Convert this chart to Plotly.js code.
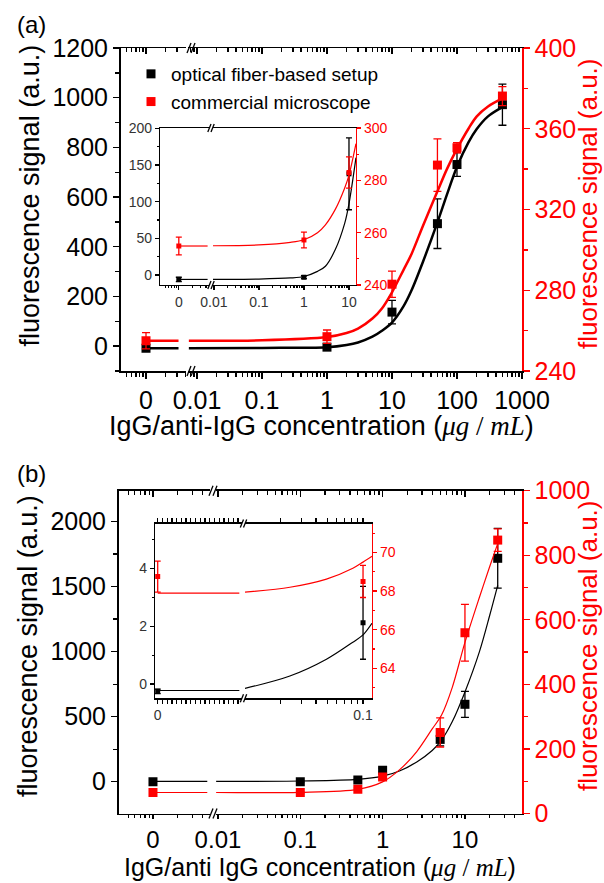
<!DOCTYPE html>
<html><head><meta charset="utf-8">
<script src="https://cdn.plot.ly/plotly-3.0.1.min.js"></script>
<style>html,body{margin:0;padding:0;background:#fff}#chart{width:604px;height:883px}</style>
</head><body><div id="chart"></div>
<script>
// ================= DATA =================
// Panel (a) main
const aConcZero = [0];
const aConc = [1, 10, 50, 100, 500];
const aFiberZero = [-8];       const aFiberZeroErr = [4];
const aFiber = [-4, 137, 493, 731, 972];
const aFiberErr = [4, 47, 100, 48, 83];
const aMicroZero = [255];      const aMicroZeroErr = [4];
const aMicro = [257, 283, 342, 350.6, 376.2];
const aMicroErr = [3.3, 6.5, 13, 2.5, 4.7];
const aFitZeroX = [0, 0.5];
const aFiberFitZero = [-8, -8];
const aMicroFitZero = [255, 255];
const aFitX = [0.0075, 0.1, 1, 2, 3, 5, 7, 10, 15, 20, 30, 50, 70, 100, 150, 200, 300, 500];
const aFiberFit = [-8, -7, -4, 5, 15, 38, 62, 95, 160, 225, 340, 498, 610, 722, 820, 873, 925, 962];
const aMicroFit = [255, 255.2, 256.8, 258.8, 261, 266, 271, 279, 290, 298, 312, 329, 340, 350, 360, 366, 371, 375];
// Panel (a) inset
const aInConcZero = [0];
const aInConc = [1, 10];
const aInFiberZero = [-6];     const aInFiberZeroErr = [3];
const aInFiber = [-3, 138];    const aInFiberErr = [2, 49];
const aInMicroZero = [254.9];  const aInMicroZeroErr = [3.4];
const aInMicro = [257.2, 283]; const aInMicroErr = [3, 6];
const aInFitZeroX = [0, 0.64];
const aInFiberFitZero = [-6, -6];
const aInMicroFitZero = [254.9, 254.9];
const aInFitX = [0.0095, 0.1, 0.5, 1, 2, 3, 5, 8, 10, 14.3];
const aInFiberFit = [-6, -5.5, -4, -2, 5, 12, 35, 70, 97, 160];
const aInMicroFit = [255, 255.3, 256.3, 257.3, 260, 263, 269, 277, 282, 294];
// Panel (b) main
const bConcZero = [0];
const bConc = [0.1, 0.5, 1, 5, 10, 25];
const bFiberZero = [0];        const bFiberZeroErr = [6];
const bFiber = [0, 13, 88, 325, 595, 1718];
const bFiberErr = [6, 8, 15, 50, 100, 230];
const bMicroZero = [65];       const bMicroZeroErr = [3];
const bMicro = [65, 75, 113, 251, 560, 847];
const bMicroErr = [3, 4, 8, 45, 88, 35];
const bFitZeroX = [0, 0.66];
const bFiberFitZero = [2, 2];
const bMicroFitZero = [65, 65];
const bFitX = [0.0095, 0.1, 0.5, 1, 1.6, 2.6, 4, 5.2, 7, 10, 15, 20, 25];
const bFiberFit = [2, 5, 17, 42, 82, 152, 240, 320, 460, 690, 1000, 1280, 1510];
const bMicroFit = [65, 65.5, 75, 98, 135, 192, 262, 305, 390, 530, 670, 765, 836];
// Panel (b) inset
const bInConcZero = [0];
const bInConc = [0.1];
const bInFiberZero = [-0.25];  const bInFiberZeroErr = [0.08];
const bInFiber = [2.12];       const bInFiberErr = [1.26];
const bInMicroZero = [68.75];  const bInMicroZeroErr = [0.8];
const bInMicro = [68.5];       const bInMicroErr = [0.83];
const bInFitZeroX = [0, 0.69];
const bInFiberFitZero = [-0.22, -0.22];
const bInMicroFitZero = [67.9, 67.9];
const bInFitX = [0.01, 0.024, 0.049, 0.082, 0.1, 0.119];
const bInFiberFit = [-0.15, 0.28, 0.86, 1.45, 1.7, 2.1];
const bInMicroFit = [67.95, 68.2, 68.62, 69.18, 69.5, 69.8];

const seriesNames = ['optical fiber-based setup', 'commercial microscope'];
const aLogTicks = [0.01, 0.1, 1, 10, 100, 1000];
const aInLogTicks = [0.01, 0.1, 1, 10];
const bLogTicks = [0.01, 0.1, 1, 10];
const bInLogTicks = [0.1];

// ================= STYLE / LAYOUT =================
const W = 604, H = 883;
const fx = p => p / W;
const fy = p => 1 - p / H;
const RED = '#ff0000', BLK = '#000000', GRY = '#333333';
const FONT = 'Liberation Sans, Arial, sans-serif';

function logMinors(lo, hi) {
  const v = [];
  for (let e = lo; e <= hi; e++) for (let m = 2; m <= 9; m++) v.push(m * Math.pow(10, e));
  return v;
}
const zeroMinors = [5, 6, 7, 8, 9].map(m => Math.log10(m) - 1).concat([2, 3, 4].map(m => Math.log10(m)));

function ax(o) {
  return Object.assign({
    showgrid: false, zeroline: false, showline: true, linecolor: BLK, linewidth: 1.5,
    ticks: 'outside', ticklen: 6, tickwidth: 1.3, tickcolor: BLK,
    tickfont: { family: FONT, size: 25, color: BLK }, fixedrange: true
  }, o);
}

function pts(x, y, err, xa, ya, color, size, name, legend) {
  return {
    x: x, y: y, xaxis: xa, yaxis: ya, type: 'scatter', mode: 'markers',
    name: name || '', showlegend: !!legend,
    marker: { symbol: 'square', size: size, color: color },
    error_y: { type: 'data', array: err, visible: true, color: color, thickness: 1.3, width: size > 6 ? 4 : 3 },
    hoverinfo: 'skip'
  };
}
function fit(x, y, xa, ya, color, w) {
  return {
    x: x, y: y, xaxis: xa, yaxis: ya, type: 'scatter', mode: 'lines', showlegend: false,
    line: { color: color, width: w, shape: 'spline', smoothing: 0.9 }, hoverinfo: 'skip'
  };
}
// empty carrier so that an overlaid top axis is drawn
function carrier(xa, ya) {
  return { x: [], y: [], xaxis: xa, yaxis: ya, type: 'scatter', mode: 'markers', showlegend: false, hoverinfo: 'skip' };
}

const data = [
  carrier('x3', 'y'), carrier('x4', 'y'), carrier('x9', 'y5'), carrier('x10', 'y5'),
  // (a) main
  fit(aFitZeroX, aFiberFitZero, 'x', 'y', BLK, 2.5),
  fit(aFitX, aFiberFit, 'x2', 'y', BLK, 2.5),
  fit(aFitZeroX, aMicroFitZero, 'x', 'y2', RED, 2.5),
  fit(aFitX, aMicroFit, 'x2', 'y2', RED, 2.5),
  pts(aConcZero, aFiberZero, aFiberZeroErr, 'x', 'y', BLK, 9),
  pts(aConc, aFiber, aFiberErr, 'x2', 'y', BLK, 9, seriesNames[0], true),
  pts(aConcZero, aMicroZero, aMicroZeroErr, 'x', 'y2', RED, 9),
  pts(aConc, aMicro, aMicroErr, 'x2', 'y2', RED, 9, seriesNames[1], true),
  // (a) inset
  fit(aInFitZeroX, aInFiberFitZero, 'x5', 'y3', BLK, 1.2),
  fit(aInFitX, aInFiberFit, 'x6', 'y3', BLK, 1.2),
  fit(aInFitZeroX, aInMicroFitZero, 'x5', 'y4', RED, 1.2),
  fit(aInFitX, aInMicroFit, 'x6', 'y4', RED, 1.2),
  pts(aInConcZero, aInFiberZero, aInFiberZeroErr, 'x5', 'y3', BLK, 5),
  pts(aInConc, aInFiber, aInFiberErr, 'x6', 'y3', BLK, 5),
  pts(aInConcZero, aInMicroZero, aInMicroZeroErr, 'x5', 'y4', RED, 5),
  pts(aInConc, aInMicro, aInMicroErr, 'x6', 'y4', RED, 5),
  // (b) main
  fit(bFitZeroX, bFiberFitZero, 'x7', 'y5', BLK, 1.2),
  fit(bFitX, bFiberFit, 'x8', 'y5', BLK, 1.2),
  fit(bFitZeroX, bMicroFitZero, 'x7', 'y6', RED, 1.2),
  fit(bFitX, bMicroFit, 'x8', 'y6', RED, 1.2),
  pts(bConcZero, bFiberZero, bFiberZeroErr, 'x7', 'y5', BLK, 9),
  pts(bConc, bFiber, bFiberErr, 'x8', 'y5', BLK, 9),
  pts(bConcZero, bMicroZero, bMicroZeroErr, 'x7', 'y6', RED, 9),
  pts(bConc, bMicro, bMicroErr, 'x8', 'y6', RED, 9),
  // (b) inset
  fit(bInFitZeroX, bInFiberFitZero, 'x11', 'y7', BLK, 1.2),
  fit(bInFitX, bInFiberFit, 'x12', 'y7', BLK, 1.2),
  fit(bInFitZeroX, bInMicroFitZero, 'x11', 'y8', RED, 1.2),
  fit(bInFitX, bInMicroFit, 'x12', 'y8', RED, 1.2),
  pts(bInConcZero, bInFiberZero, bInFiberZeroErr, 'x11', 'y7', BLK, 5),
  pts(bInConc, bInFiber, bInFiberErr, 'x12', 'y7', BLK, 5),
  pts(bInConcZero, bInMicroZero, bInMicroZeroErr, 'x11', 'y8', RED, 5),
  pts(bInConc, bInMicro, bInMicroErr, 'x12', 'y8', RED, 5)
];

const smallFont = { family: FONT, size: 14, color: GRY };
const smallRed = { family: FONT, size: 14, color: RED };

// segment definitions (pixel domains, ranges)
const A = { z: [120.5, 186], zr: [-0.392, 0.615], l: [188, 522], lr: [-2.138, 3.0], y: [48, 371] };
const AI = { z: [160, 209], zr: [-0.418, 0.671], l: [213, 356], lr: [-2.02, 1.156], y: [128, 285] };
const B = { z: [118.5, 210], zr: [-0.419, 0.693], l: [216, 522], lr: [-2.024, 1.693], y: [490.7, 813.5] };
const BI = { z: [155, 242], zr: [-0.0228, 0.7126], l: [245, 372], lr: [-2.0, -0.924], y: [523.5, 698.3] };
const dom = p => [fx(p[0]), fx(p[1])];
const ydom = p => [fy(p[1]), fy(p[0])];
const bottomFontB = { family: FONT, size: 24, color: BLK };

const layout = {
  width: W, height: H, margin: { l: 0, r: 0, t: 0, b: 0 },
  paper_bgcolor: '#fff', plot_bgcolor: 'rgba(0,0,0,0)',
  font: { family: FONT, color: BLK },
  showlegend: true,
  legend: { x: fx(131), y: fy(55), xanchor: 'left', yanchor: 'top', bgcolor: 'rgba(0,0,0,0)',
            font: { family: FONT, size: 19, color: BLK }, tracegroupgap: 0, itemwidth: 30 },
  // ---------- (a) main ----------
  xaxis: ax({ domain: dom(A.z), range: A.zr, anchor: 'y', tickvals: [0], ticktext: ['0'],
              minor: { tickvals: zeroMinors, ticks: 'outside', ticklen: 4, tickcolor: BLK } }),
  xaxis2: ax({ type: 'log', domain: dom(A.l), range: A.lr, anchor: 'y', tickvals: aLogTicks,
               ticktext: aLogTicks.map(String), minor: { tickvals: logMinors(-3, 2), ticks: 'outside', ticklen: 4, tickcolor: BLK } }),
  xaxis3: ax({ overlaying: 'x', side: 'top', anchor: 'y', range: A.zr, tickvals: [0], showticklabels: false,
               ticks: 'inside', minor: { tickvals: zeroMinors, ticks: 'inside', ticklen: 4, tickcolor: BLK } }),
  xaxis4: ax({ type: 'log', overlaying: 'x2', side: 'top', anchor: 'y', range: A.lr, tickvals: aLogTicks, showticklabels: false,
               ticks: 'inside', minor: { tickvals: logMinors(-3, 2), ticks: 'inside', ticklen: 4, tickcolor: BLK } }),
  yaxis: ax({ domain: ydom(A.y), range: [-100, 1200], anchor: 'x', tick0: 0, dtick: 200,
              minor: { dtick: 100, tick0: 0, ticks: 'outside', ticklen: 4, tickcolor: BLK } }),
  yaxis2: ax({ overlaying: 'y', side: 'right', anchor: 'x2', range: [240, 400], tick0: 240, dtick: 40,
               linecolor: RED, tickcolor: RED, tickfont: { family: FONT, size: 25, color: RED },
               minor: { dtick: 20, tick0: 240, ticks: 'outside', ticklen: 4, tickcolor: RED } }),
  // ---------- (a) inset ----------
  xaxis5: ax({ domain: dom(AI.z), range: AI.zr, anchor: 'y3', tickvals: [0], ticktext: ['0'], linewidth: 1.2,
               ticklen: 4, tickfont: smallFont, mirror: true,
               minor: { tickvals: zeroMinors, ticks: 'outside', ticklen: 2, tickcolor: BLK } }),
  xaxis6: ax({ type: 'log', domain: dom(AI.l), range: AI.lr, anchor: 'y3', tickvals: aInLogTicks, linewidth: 1.2,
               ticktext: aInLogTicks.map(String), ticklen: 4, tickfont: smallFont, mirror: true,
               minor: { tickvals: logMinors(-3, 1), ticks: 'outside', ticklen: 2, tickcolor: BLK } }),
  yaxis3: ax({ domain: ydom(AI.y), range: [-13.6, 200.5], anchor: 'x5', tick0: 0, dtick: 50, linewidth: 1.2,
               ticklen: 4, tickfont: smallFont,
               minor: { dtick: 25, tick0: 0, ticks: 'outside', ticklen: 2, tickcolor: BLK } }),
  yaxis4: ax({ overlaying: 'y3', side: 'right', anchor: 'x6', range: [240, 300], tick0: 240, dtick: 20, linewidth: 1.2,
               linecolor: RED, tickcolor: RED, ticklen: 4, tickfont: smallRed,
               minor: { dtick: 10, tick0: 240, ticks: 'outside', ticklen: 2, tickcolor: RED } }),
  // ---------- (b) main ----------
  xaxis7: ax({ domain: dom(B.z), range: B.zr, anchor: 'y5', tickvals: [0], ticktext: ['0'], ticklen: 4, tickfont: bottomFontB,
               minor: { tickvals: zeroMinors, ticks: 'outside', ticklen: 3, tickcolor: BLK } }),
  xaxis8: ax({ type: 'log', domain: dom(B.l), range: B.lr, anchor: 'y5', tickvals: bLogTicks, ticklen: 4, tickfont: bottomFontB,
               ticktext: bLogTicks.map(String), minor: { tickvals: logMinors(-3, 1), ticks: 'outside', ticklen: 3, tickcolor: BLK } }),
  xaxis9: ax({ overlaying: 'x7', side: 'top', anchor: 'y5', range: B.zr, tickvals: [0], showticklabels: false,
               ticks: 'inside', minor: { tickvals: zeroMinors, ticks: 'inside', ticklen: 4, tickcolor: BLK } }),
  xaxis10: ax({ type: 'log', overlaying: 'x8', side: 'top', anchor: 'y5', range: B.lr, tickvals: bLogTicks, showticklabels: false,
                ticks: 'inside', minor: { tickvals: logMinors(-3, 1), ticks: 'inside', ticklen: 4, tickcolor: BLK } }),
  yaxis5: ax({ domain: ydom(B.y), range: [-245, 2238], anchor: 'x7', tick0: 0, dtick: 500,
               minor: { dtick: 250, tick0: 0, ticks: 'outside', ticklen: 4, tickcolor: BLK } }),
  yaxis6: ax({ overlaying: 'y5', side: 'right', anchor: 'x8', range: [0, 1000], tick0: 0, dtick: 200,
               linecolor: RED, tickcolor: RED, tickfont: { family: FONT, size: 25, color: RED },
               minor: { dtick: 100, tick0: 0, ticks: 'outside', ticklen: 4, tickcolor: RED } }),
  // ---------- (b) inset ----------
  xaxis11: ax({ domain: dom(BI.z), range: BI.zr, anchor: 'y7', tickvals: [0], ticktext: ['0'], linewidth: 1.2,
                ticklen: 4, tickfont: smallFont, mirror: 'allticks',
                minor: { dtick: 0.04, tick0: 0, ticks: 'outside', ticklen: 2, tickcolor: BLK } }),
  xaxis12: ax({ type: 'log', domain: dom(BI.l), range: BI.lr, anchor: 'y7', tickvals: bInLogTicks, linewidth: 1.2,
                ticktext: bInLogTicks.map(String), ticklen: 4, tickfont: smallFont, mirror: 'allticks',
                minor: { tickvals: logMinors(-2, -1), ticks: 'outside', ticklen: 2, tickcolor: BLK } }),
  yaxis7: ax({ domain: ydom(BI.y), range: [-0.49, 5.55], anchor: 'x11', tick0: 0, dtick: 2, linewidth: 1.2,
               ticklen: 4, tickfont: smallFont,
               minor: { dtick: 1, tick0: 0, ticks: 'outside', ticklen: 2, tickcolor: BLK } }),
  yaxis8: ax({ overlaying: 'y7', side: 'right', anchor: 'x12', range: [62.45, 71.5], tick0: 64, dtick: 2, linewidth: 1.2,
               linecolor: RED, tickcolor: RED, ticklen: 4, tickfont: smallRed,
               minor: { dtick: 1, tick0: 64, ticks: 'outside', ticklen: 2, tickcolor: RED } }),
  annotations: [],
  shapes: []
};

function ann(text, x, y, size, color, angle) {
  layout.annotations.push({ text: text, x: fx(x), y: fy(y), xref: 'paper', yref: 'paper', showarrow: false,
    xanchor: 'center', yanchor: 'middle', textangle: angle || 0, font: { family: FONT, size: size, color: color || BLK } });
}
const unitA = '(<span style="font-family:\'Liberation Serif\',serif"><i>μg</i> / <i>mL</i></span>)';
ann('(a)', 31, 24, 24);
ann('fluorescence signal (a.u.)', 29.5, 196, 27, BLK, -90);
ann('fluorescence signal (a.u.)', 588, 204, 26, RED, -90);
ann('IgG/anti-IgG concentration ' + unitA, 322, 426, 27);
ann('(b)', 31, 473, 24);
ann('fluorescence signal (a.u.)', 28, 646, 27, BLK, -90);
ann('fluorescence signal (a.u.)', 588, 646, 26, RED, -90);
ann('IgG/anti IgG concentration ' + unitA, 320, 867, 25);

function brk(xc, yc, s) {
  const d = s || 1;
  [[-4, 0], [0, 4]].forEach(([a, b]) => {
    layout.shapes.push({ type: 'line', xref: 'paper', yref: 'paper',
      x0: fx(xc + a * d), y0: fy(yc + 5 * d), x1: fx(xc + b * d), y1: fy(yc - 5 * d),
      line: { color: BLK, width: 1.3 } });
  });
}
brk(191, 48); brk(191, 371);
brk(211, 128, 0.8); brk(211, 285, 0.8);
brk(213, 490.7); brk(213, 813.5);
brk(243.5, 523.5, 0.8); brk(243.5, 698.3, 0.8);

Plotly.newPlot('chart', data, layout, { staticPlot: true, displayModeBar: false });
</script>
</body></html>
